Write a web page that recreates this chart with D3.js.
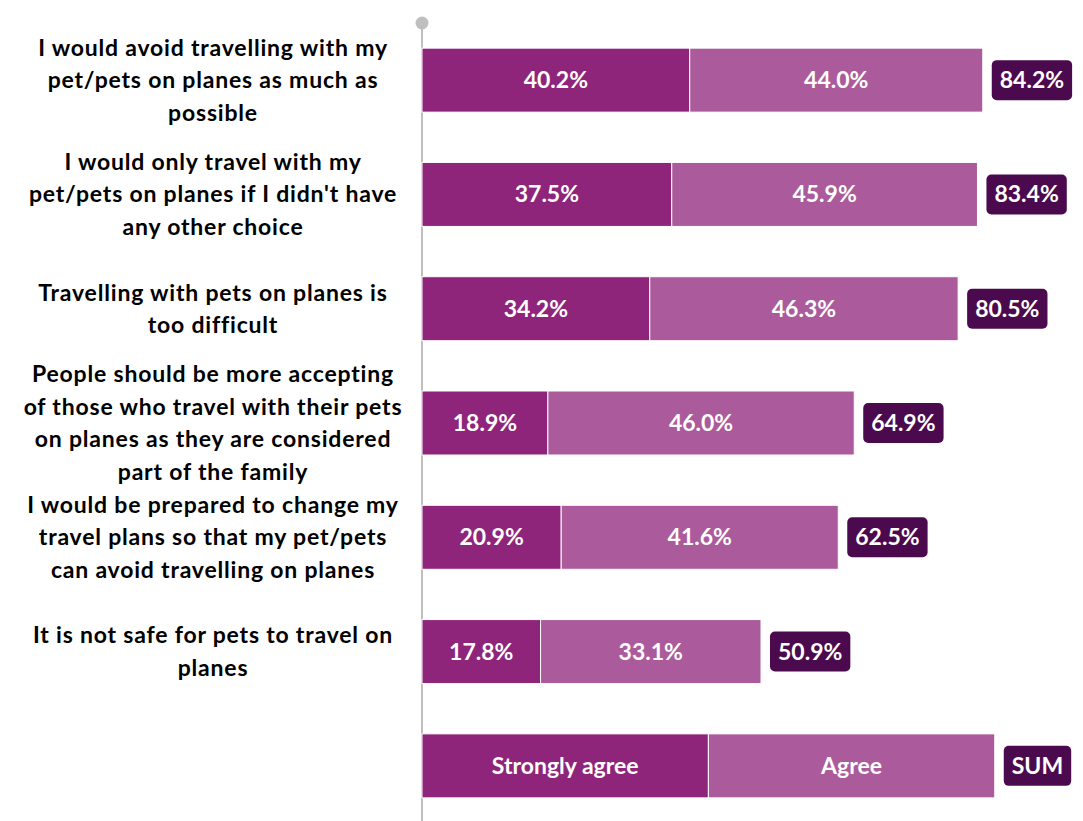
<!DOCTYPE html>
<html>
<head>
<meta charset="utf-8">
<script src="https://cdn.jsdelivr.net/npm/d3@7"></script>
<style>
  html, body { margin: 0; padding: 0; background: #ffffff; }
  svg { display: block; }
</style>
</head>
<body>
<svg id="chart" width="1083" height="821"></svg>
<script>
// Survey statements (label lines)
const statements = [
  ["I would avoid travelling with my", "pet/pets on planes as much as", "possible"],
  ["I would only travel with my", "pet/pets on planes if I didn't have", "any other choice"],
  ["Travelling with pets on planes is", "too difficult"],
  ["People should be more accepting", "of those who travel with their pets", "on planes as they are considered", "part of the family"],
  ["I would be prepared to change my", "travel plans so that my pet/pets", "can avoid travelling on planes"],
  ["It is not safe for pets to travel on", "planes"]
];
const stronglyAgree = [40.2, 37.5, 34.2, 18.9, 20.9, 17.8];
const agree         = [44.0, 45.9, 46.3, 46.0, 41.6, 33.1];
const sums          = [84.2, 83.4, 80.5, 64.9, 62.5, 50.9];

// Key row drawn as a bar of its own
const keyNames  = ["Strongly agree", "Agree"];
const keyWidths = [43, 43];
const keySum    = "SUM";

const colors = { strong: "#8f247b", agree: "#ab5b9b", sum: "#4c0a4e", axis: "#bfbfbf" };
const FONT = "Lato, 'Open Sans', sans-serif";

const svg = d3.select("#chart");
const rows = d3.range(statements.length + 1);

const x = d3.scaleLinear().domain([0, 100]).range([422, 1088]);
const y = d3.scaleBand().domain(rows).range([23, 823]).paddingInner(0.44).paddingOuter(0.22);

// vertical axis line with a dot at its top
svg.append("line")
  .attr("x1", x(0)).attr("x2", x(0))
  .attr("y1", 23).attr("y2", 821)
  .attr("stroke", colors.axis).attr("stroke-width", 2);
svg.append("circle")
  .attr("cx", x(0)).attr("cy", 23).attr("r", 6.5)
  .attr("fill", colors.axis);

// category labels, centred lines
const labelCx = 213, lineH = 32.5;
statements.forEach((lines, i) => {
  const cy = y(i) + y.bandwidth() / 2;
  const t = svg.append("text")
    .attr("text-anchor", "middle")
    .attr("font-family", FONT)
    .attr("font-weight", 700)
    .attr("font-size", 23)
    .attr("letter-spacing", 0.8)
    .attr("fill", "#000");
  lines.forEach((ln, k) => {
    t.append("tspan")
      .attr("x", labelCx)
      .attr("y", cy + (k - (lines.length - 1) / 2) * lineH)
      .attr("dy", "0.35em")
      .text(ln);
  });
});

function segment(row, x0, x1, fill, label) {
  svg.append("rect")
    .attr("x", x(x0)).attr("y", y(row))
    .attr("width", x(x1) - x(x0)).attr("height", y.bandwidth())
    .attr("fill", fill)
    .attr("stroke", "#ffffff").attr("stroke-width", 1);
  svg.append("text")
    .attr("x", (x(x0) + x(x1)) / 2)
    .attr("y", y(row) + y.bandwidth() / 2)
    .attr("dy", "0.35em")
    .attr("text-anchor", "middle")
    .attr("font-family", FONT).attr("font-weight", 700).attr("font-size", 23)
    .attr("fill", "#ffffff")
    .text(label);
}

function sumBox(row, xEnd, label) {
  const g = svg.append("g");
  const cy = y(row) + y.bandwidth() / 2;
  const t = g.append("text")
    .attr("y", cy).attr("dy", "0.35em")
    .attr("font-family", FONT).attr("font-weight", 700).attr("font-size", 23)
    .attr("fill", "#ffffff")
    .text(label);
  const w = t.node().getComputedTextLength();
  const bx = x(xEnd) + 9, bw = w + 16, bh = 40;
  g.insert("rect", "text")
    .attr("x", bx).attr("y", cy - bh / 2)
    .attr("width", bw).attr("height", bh)
    .attr("rx", 5).attr("ry", 5)
    .attr("fill", colors.sum);
  t.attr("x", bx + 8);
}

const fmt = v => v.toFixed(1) + "%";
stronglyAgree.forEach((s, i) => {
  segment(i, 0, s, colors.strong, fmt(s));
  segment(i, s, s + agree[i], colors.agree, fmt(agree[i]));
  sumBox(i, s + agree[i], fmt(sums[i]));
});

// key row
const kr = statements.length;
segment(kr, 0, keyWidths[0], colors.strong, keyNames[0]);
segment(kr, keyWidths[0], keyWidths[0] + keyWidths[1], colors.agree, keyNames[1]);
sumBox(kr, keyWidths[0] + keyWidths[1], keySum);
</script>
</body>
</html>
